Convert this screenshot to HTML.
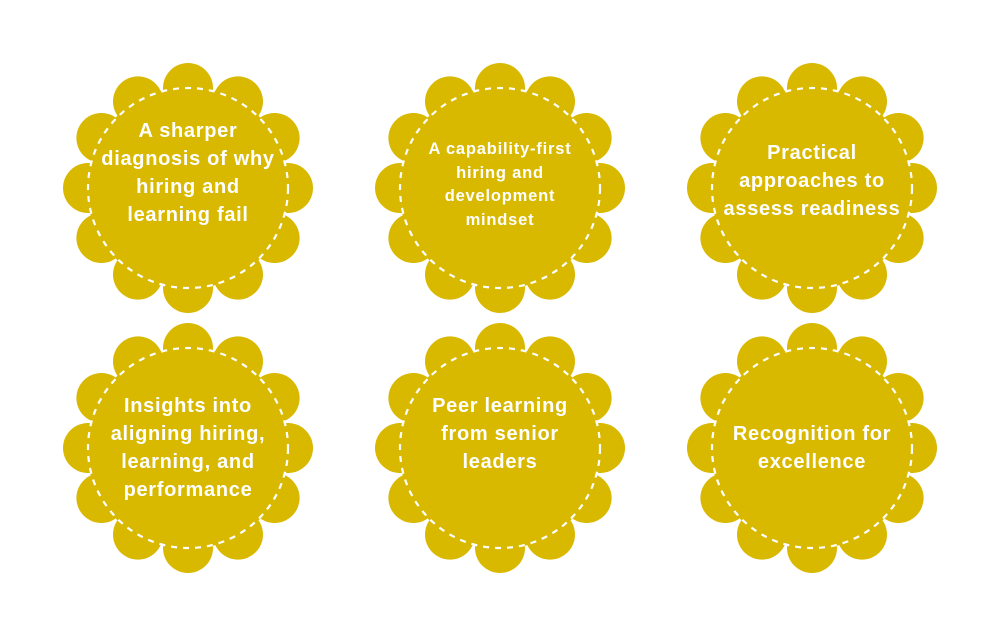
<!DOCTYPE html>
<html><head><style>
body{margin:0;width:1000px;height:628px;background:#fff;position:relative;overflow:hidden;font-family:"Liberation Sans",sans-serif}
svg{position:absolute;left:0;top:0}
.t{position:absolute;width:260px;text-align:center;color:#fff;font-weight:bold;font-size:20px;line-height:28px;letter-spacing:0.7px}
.s{font-size:16.5px;line-height:23.5px;letter-spacing:0.8px}
</style></head><body>
<svg width="1000" height="628" id="s"></svg>
<div class="t" style="left:58px;top:117px">A sharper<br>diagnosis of why<br>hiring and<br>learning fail</div>
<div class="t s" style="left:370px;top:138px">A capability-first<br>hiring and<br>development<br>mindset</div>
<div class="t" style="left:682px;top:139px">Practical<br>approaches to<br>assess readiness</div>
<div class="t" style="left:58px;top:392px">Insights into<br>aligning hiring,<br>learning, and<br>performance</div>
<div class="t" style="left:370px;top:392px">Peer learning<br>from senior<br>leaders</div>
<div class="t" style="left:682px;top:420px">Recognition for<br>excellence</div>
<script>
var s=document.getElementById('s'),h='';
[[188,188],[500,188],[812,188],[188,448],[500,448],[812,448]].forEach(function(c){
h+='<circle cx="'+c[0]+'" cy="'+c[1]+'" r="101" fill="#d9b800"/>';
for(var i=0;i<12;i++){var a=i*Math.PI/6;h+='<circle cx="'+(c[0]+100*Math.sin(a))+'" cy="'+(c[1]-100*Math.cos(a))+'" r="25" fill="#d9b800"/>';}
h+='<circle cx="'+c[0]+'" cy="'+c[1]+'" r="100" fill="none" stroke="#fff" stroke-width="2.2" stroke-dasharray="6 6"/>';
});
s.innerHTML=h;
</script>
</body></html>
